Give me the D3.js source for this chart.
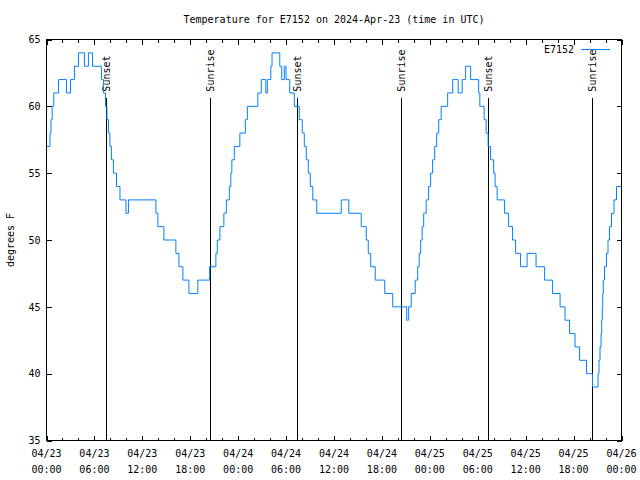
<!DOCTYPE html>
<html><head><meta charset="utf-8">
<script src="https://cdn.jsdelivr.net/npm/d3@7"></script>
<style>body{margin:0;background:#fff}</style>
</head><body><svg id="c" width="640" height="480"></svg>
<script>
const titleText = "Temperature for E7152 on 2024-Apr-23 (time in UTC)";
const seriesName = "E7152";
const yLabel = "degrees F";
// hours since 2024-04-23 00:00 UTC at which the reading changes to the value in temps
const hours = [0,0.44,0.56,0.71,0.91,1.50,2.50,3.00,3.50,4.00,4.75,5.25,5.76,6.88,7.13,7.38,7.57,7.76,7.94,8.13,8.38,8.76,9.20,9.95,10.26,13.70,13.95,14.70,16.20,16.58,17.08,17.83,18.95,20.43,21.21,21.39,21.71,22.21,22.52,22.90,23.08,23.21,23.52,24.21,24.90,25.15,26.46,26.90,27.46,27.65,28.09,28.24,29.21,29.46,29.78,29.99,30.46,31.03,31.65,32.03,32.28,32.53,32.78,33.03,33.34,33.84,36.91,37.85,39.41,40.04,40.29,40.60,41.16,42.35,43.35,45.10,45.35,45.67,46.17,46.48,46.67,46.85,47.04,47.23,47.54,47.85,48.10,48.35,48.61,48.86,49.11,49.42,50.23,50.86,51.55,52.05,52.48,53.11,54.11,54.26,54.80,55.05,55.30,55.61,55.99,56.17,56.43,57.36,57.86,58.36,58.74,59.36,60.18,61.30,62.37,63.37,64.31,64.93,65.50,66.18,66.75,67.62,68.37,69.06,69.18,69.31,69.44,69.52,69.59,69.65,69.72,69.87,70.12,70.31,70.50,70.75,71.06,71.37,72.00];
const temps = [57,58,59,60,61,62,61,62,63,64,63,64,63,62,61,60,59,58,57,56,55,54,53,52,53,52,51,50,49,48,47,46,47,48,49,50,51,52,53,54,55,56,57,58,59,60,61,62,61,62,63,64,63,62,63,62,61,60,59,58,57,56,55,54,53,52,53,52,51,50,49,48,47,46,45,44,45,46,47,48,49,50,51,52,53,54,55,56,57,58,59,60,61,62,61,62,63,62,61,60,59,58,57,56,55,54,53,52,51,50,49,48,49,48,47,46,45,44,43,42,41,40,39,40,41,42,43,44,45,46,47,48,49,50,51,52,53,54,54];
const sunEvents = ["Sunset","Sunrise","Sunset","Sunrise","Sunset","Sunrise"];
const sunHours = [7.42,20.43,31.31,44.45,55.34,68.35];
const yTicks = [35,40,45,50,55,60,65];
const xMajorTicks = [0,6,12,18,24,30,36,42,48,54,60,66,72];
const xMinorTicks = [2,4,8,10,14,16,20,22,26,28,32,34,38,40,44,46,50,52,56,58,62,64,68,70];
const xDateLabels = ["04/23","04/23","04/23","04/23","04/24","04/24","04/24","04/24","04/25","04/25","04/25","04/25","04/26"];
const xTimeLabels = ["00:00","06:00","12:00","18:00","00:00","06:00","12:00","18:00","00:00","06:00","12:00","18:00","00:00"];

const FONT = "DejaVu Sans Mono, monospace";
const svg = d3.select("#c");
const L = 46.5, R = 621.5, T = 39.5, B = 440.5;
const x = d3.scaleLinear().domain([0,72]).range([L,R]);
const y = d3.scaleLinear().domain([35,65]).range([B,T]);

const txt = (sel) => sel.attr("font-family", FONT).attr("font-size", 10).attr("fill", "#000");

// title
svg.append("text").call(txt).attr("x", (L+R)/2).attr("y", 23).attr("text-anchor","middle").text(titleText);

// axes with inward ticks
const fmtNone = () => "";
svg.append("g").attr("transform",`translate(0,${B})`)
  .call(d3.axisBottom(x).tickValues(xMajorTicks).tickSize(-5).tickFormat(fmtNone));
svg.append("g").attr("transform",`translate(0,${B})`)
  .call(d3.axisBottom(x).tickValues(xMinorTicks).tickSize(-3).tickFormat(fmtNone));
svg.append("g").attr("transform",`translate(0,${T})`)
  .call(d3.axisTop(x).tickValues(xMajorTicks).tickSize(-5).tickFormat(fmtNone));
svg.append("g").attr("transform",`translate(0,${T})`)
  .call(d3.axisTop(x).tickValues(xMinorTicks).tickSize(-3).tickFormat(fmtNone));
const yl = svg.append("g").attr("transform",`translate(${L},0)`)
  .call(d3.axisLeft(y).tickValues(yTicks).tickSize(-5).tickPadding(6).tickFormat(d3.format("d")));
yl.selectAll("text").attr("font-family", FONT).attr("font-size", 10).attr("fill","#000");
svg.append("g").attr("transform",`translate(${R},0)`)
  .call(d3.axisRight(y).tickValues(yTicks).tickSize(-5).tickFormat(fmtNone));
svg.selectAll(".domain").remove();
svg.selectAll(".tick line").attr("stroke","#000").attr("shape-rendering","crispEdges");

// x labels (two lines)
const xl = svg.append("g");
xMajorTicks.forEach((h,i) => {
  xl.append("text").call(txt).attr("x", x(h)).attr("y", 457).attr("text-anchor","middle").text(xDateLabels[i]);
  xl.append("text").call(txt).attr("x", x(h)).attr("y", 473).attr("text-anchor","middle").text(xTimeLabels[i]);
});

// y label
svg.append("text").call(txt).attr("transform",`translate(14,${(T+B)/2}) rotate(-90)`)
  .attr("text-anchor","middle").text(yLabel);

// border
svg.append("rect").attr("x",L).attr("y",T).attr("width",R-L).attr("height",B-T)
  .attr("fill","none").attr("stroke","#000").attr("shape-rendering","crispEdges");

// sunrise/sunset markers
const lineTop = 60.6, labelStart = 61.1;
sunHours.forEach((h,i) => {
  const xp = Math.round(x(h)) + 0.5;
  svg.append("line").attr("x1",xp).attr("x2",xp).attr("y1",y(lineTop)).attr("y2",B)
    .attr("stroke","#000").attr("shape-rendering","crispEdges");
  svg.append("text").call(txt).attr("transform",`translate(${xp},${y(labelStart)}) rotate(-90)`)
    .attr("text-anchor","start").attr("dy","0.35em").text(sunEvents[i]);
});

// data line
const data = hours.map((h,i) => [h, temps[i]]);
const line = d3.line().x(d => x(d[0])).y(d => y(d[1])).curve(d3.curveStepAfter);
svg.append("path").datum(data).attr("d", line).attr("fill","none")
  .attr("stroke","#0080ff").attr("stroke-width",1);

// legend
svg.append("text").call(txt).attr("x", 574).attr("y", 49).attr("dy","0.35em")
  .attr("text-anchor","end").text(seriesName);
svg.append("line").attr("x1",581).attr("x2",610).attr("y1",49.5).attr("y2",49.5)
  .attr("stroke","#0080ff").attr("stroke-width",1);
</script></body></html>
